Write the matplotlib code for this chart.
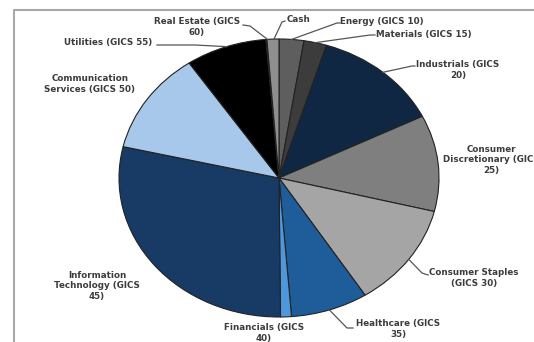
import numpy as np
import matplotlib.pyplot as plt

# sector weights (%) clockwise from 12 o'clock
sectors = ['Energy (GICS 10)', 'Materials (GICS 15)', 'Industrials (GICS\n20)',
           'Consumer\nDiscretionary (GICS\n25)', 'Consumer Staples\n(GICS 30)',
           'Healthcare (GICS\n35)', 'Financials (GICS\n40)',
           'Information\nTechnology (GICS\n45)', 'Communication\nServices (GICS 50)',
           'Utilities (GICS 55)', 'Real Estate (GICS\n60)', 'Cash']
weights = [2.5, 2.3, 12.9, 11.2, 12.1, 7.8, 1.1, 28.8, 11.9, 8.2, 0.1, 1.2]
colors = ['#5e5e5e', '#3c3c3c', '#0f2742', '#7f7f7f', '#a5a5a5', '#1f5d9a',
          '#4f97dc', '#173b64', '#a7c8ea', '#000000', '#9a9a9a', '#8f8f8f']

# label placement in pixels: (x, y, ha), and elbow of leader line (None = no line)
label_pos = [(340, 22, 'left'), (376, 35, 'left'), (458, 70, 'center'),
             (491, 160, 'center'), (474, 278, 'center'), (398, 329, 'center'),
             (264, 333, 'center'), (97, 286, 'center'), (90, 84, 'center'),
             (108, 43, 'center'), (197, 27, 'center'), (287, 20, 'left')]
elbows = [(337, 23), (370, 35), (412, 66), None, (422, 273), (347, 328),
          None, None, None, (195, 45), (250, 26), (282, 22)]
line_ends = [(340, 23), (375, 35), (415, 66), None, (428, 275), (353, 328),
             None, None, None, (157, 45), (243, 25), (285, 21)]

W, H = 534, 342
cx, cy, rx, ry = 279, 178, 160, 139

fig = plt.figure(figsize=(W / 100, H / 100), dpi=100)
fig.patch.set_facecolor('white')

# elliptical pie: circular pie in an axes stretched to the ellipse box
pax = fig.add_axes([(cx - rx) / W, (H - cy - ry) / H, 2 * rx / W, 2 * ry / H])
wedges, _ = pax.pie(weights, colors=colors, startangle=90, counterclock=False,
                    radius=1, wedgeprops=dict(edgecolor='#222222', linewidth=0.8))
pax.set_aspect('auto')
pax.set_xlim(-1, 1)
pax.set_ylim(-1, 1)
pax.axis('off')

# overlay in pixel coordinates for frame, labels and leader lines
ax = fig.add_axes([0, 0, 1, 1], zorder=3)
ax.set_xlim(0, W)
ax.set_ylim(H, 0)
ax.axis('off')
ax.patch.set_alpha(0)

ax.plot([14, 14, W], [H, 10, 10], color='#a8a8a8', lw=1.5, clip_on=False)

cum = np.cumsum([0] + weights)
for i, name in enumerate(sectors):
    x, y, ha = label_pos[i]
    ax.text(x, y, name, ha=ha, va='center', fontsize=6.3, fontweight='bold',
            color='#3c3c3c', linespacing=1.25, family='DejaVu Sans')
    if elbows[i] is None:
        continue
    mid = np.radians((cum[i] + cum[i + 1]) / 2 * 3.6)
    px = cx + rx * np.sin(mid)
    py = cy - ry * np.cos(mid)
    ex, ey = elbows[i]
    lx, ly = line_ends[i]
    ax.plot([px, ex, lx], [py, ey, ly], color='#555555', lw=0.9)

fig.savefig('out.png', dpi=100)
